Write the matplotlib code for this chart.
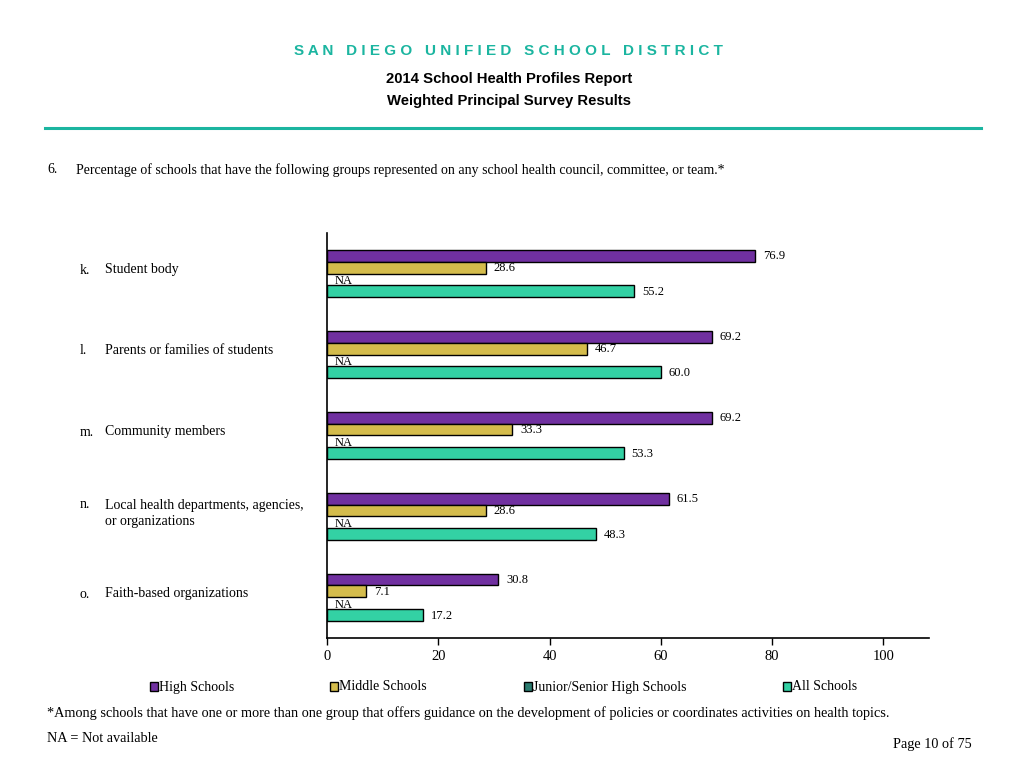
import matplotlib
matplotlib.use("Agg")
import matplotlib.pyplot as plt
from matplotlib.patches import Rectangle
from matplotlib.lines import Line2D
import numpy as np

letters = ["k.", "l.", "m.", "n.", "o."]
groups = ["Student body", "Parents or families of students", "Community members",
          "Local health departments, agencies,\nor organizations", "Faith-based organizations"]
series = ["High Schools", "Middle Schools", "Junior/Senior High Schools", "All Schools"]
high = [76.9, 69.2, 69.2, 61.5, 30.8]
middle = [28.6, 46.7, 33.3, 28.6, 7.1]
junior = [None, None, None, None, None]
all_schools = [55.2, 60.0, 53.3, 48.3, 17.2]
colors = ["#7030A0", "#D4BC4C", "#2A7B6F", "#33D1A4"]
xticks = [0, 20, 40, 60, 80, 100]

serif = "Liberation Serif"
sans = "Liberation Sans"

fig = plt.figure(figsize=(10.24, 7.68), dpi=100)

# header
fig.text(0.497, 0.934, "S A N   D I E G O   U N I F I E D   S C H O O L   D I S T R I C T",
         ha="center", va="center", fontsize=11, fontweight="bold", color="#1BB5A0", family=sans)
fig.text(0.497, 0.897, "2014 School Health Profiles Report", ha="center", va="center",
         fontsize=10.7, fontweight="bold", family=sans)
fig.text(0.497, 0.869, "Weighted Principal Survey Results", ha="center", va="center",
         fontsize=10.7, fontweight="bold", family=sans)
fig.add_artist(Line2D([0.044, 0.958], [0.833, 0.833], color="#1BB5A0", lw=2.2))

fig.text(0.046, 0.779, "6.", ha="left", va="center", fontsize=10, family=serif)
fig.text(0.074, 0.779, "Percentage of schools that have the following groups represented on any "
         "school health council, committee, or team.*", ha="left", va="center", fontsize=10, family=serif)

ax = fig.add_axes([0.3193, 0.1693, 0.588, 0.5273])
y = np.arange(len(groups))
h = 0.148
data = [high, middle, junior, all_schools]
for i, (vals, c) in enumerate(zip(data, colors)):
    pos = y - 1.5 * h + i * h
    for p, v in zip(pos, vals):
        if v is None:
            ax.text(1.3, p + 0.02, "NA", ha="left", va="center", fontsize=9, family=serif)
            continue
        ax.barh(p, v, height=h, color=c, edgecolor="black", linewidth=1.0)
        ax.text(v + 1.4, p + 0.01, f"{v:.1f}", ha="left", va="center", fontsize=9, family=serif)

ax.set_xlim(0, 108.2)
ax.set_ylim(4.5, -0.5)
ax.set_yticks([])
ax.set_xticks(xticks)
ax.set_xticklabels([str(t) for t in xticks], family=serif, fontsize=10.5)
ax.tick_params(axis="x", length=5, width=1, pad=4)
for s in ["top", "right"]:
    ax.spines[s].set_visible(False)
ax.spines["left"].set_linewidth(1.2)
ax.spines["bottom"].set_linewidth(1.2)

# category labels
for i, (let, g) in enumerate(zip(letters, groups)):
    yc = 274 + i * 81 - 4
    lines = g.split("\n")
    if len(lines) == 2:
        yc -= 8
    fig.text(80 / 1024, 1 - yc / 768, let, ha="left", va="center", fontsize=10, family=serif)
    for j, line in enumerate(lines):
        fig.text(105 / 1024, 1 - (yc + 16 * j) / 768, line, ha="left", va="center",
                 fontsize=10, family=serif)

# legend
leg_x = [150, 330, 524, 783]
for lx, name, c in zip(leg_x, series, colors):
    fig.add_artist(Rectangle((lx / 1024, 1 - 691 / 768), 8 / 1024, 9 / 768, facecolor=c,
                             edgecolor="black", linewidth=1.0))
    fig.text((lx + 9) / 1024, 1 - 690.5 / 768, name, ha="left", va="baseline", fontsize=10, family=serif)

fig.text(0.046, 1 - 713 / 768, "*Among schools that have one or more than one group that offers guidance "
         "on the development of policies or coordinates activities on health topics.",
         ha="left", va="center", fontsize=10.25, family=serif)
fig.text(0.046, 1 - 739 / 768, "NA = Not available", ha="left", va="center", fontsize=10.25, family=serif)
fig.text(0.949, 1 - 744 / 768, "Page 10 of 75", ha="right", va="center", fontsize=10.25, family=serif)

fig.savefig("out.png", dpi=100)
